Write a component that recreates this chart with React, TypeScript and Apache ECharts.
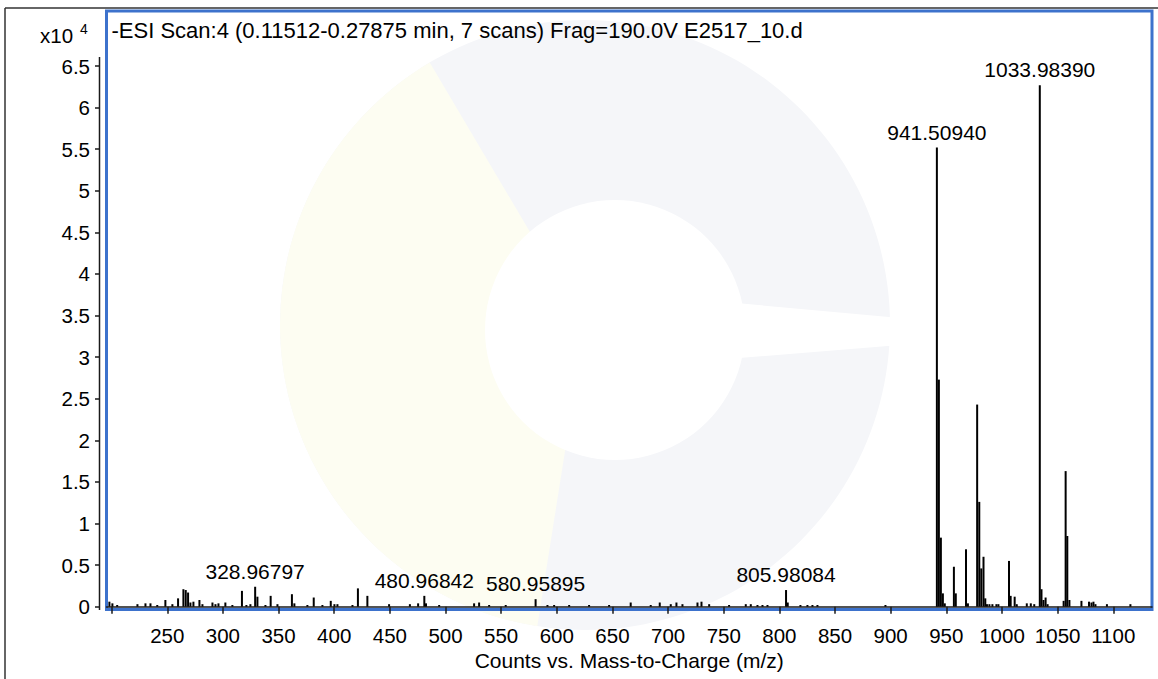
import React, { useEffect, useRef } from 'react';
import * as echarts from 'echarts';

const FONT = '"Liberation Sans", Arial, Helvetica, sans-serif';

const titleText = '-ESI Scan:4 (0.11512-0.27875 min, 7 scans) Frag=190.0V E2517_10.d';
const xAxisTitle = 'Counts vs. Mass-to-Charge (m/z)';

// peak positions (m/z) and intensities (counts)
const peakMz = [
  198.0, 200.7, 205.0, 223.2, 230.4, 234.9, 241.0, 248.3, 254.6, 259.7,
  264.5, 266.6, 268.7, 270.8, 273.5, 278.9, 281.6, 290.6, 293.3, 296.0,
  302.2, 308.5, 317.1, 321.1, 324.7, 328.96797, 331.0, 338.2, 342.9, 349.0,
  362.0, 364.2, 375.9, 381.6, 389.4, 396.9, 400.2, 402.9, 416.4, 421.3,
  429.8, 449.3, 468.0, 475.4, 480.96842, 482.5, 494.3, 525.7, 530.2, 539.2,
  554.1, 580.95895, 591.6, 597.6, 611.1, 629.0, 647.0, 666.4, 684.4, 692.5,
  702.4, 707.5, 712.9, 726.4, 730.0, 736.9, 754.8, 769.8, 774.3, 780.3,
  784.8, 789.3, 805.98084, 807.5, 818.9, 825.2, 829.7, 834.2, 895.3,
  941.5094, 943.3, 945.1, 946.9, 948.6, 956.8, 958.5, 967.7, 969.4,
  977.7, 979.6, 981.4, 983.4, 985.0, 986.5, 988.7, 991.4, 995.0, 996.8,
  1006.3, 1007.8, 1011.4, 1013.3, 1022.3, 1025.9, 1029.0,
  1033.9839, 1035.5, 1037.3, 1039.2, 1041.0,
  1055.4, 1057.2, 1058.7, 1060.6, 1071.4, 1078.2, 1080.4, 1082.2, 1084.0,
  1094.3, 1115.4,
];
const peakCounts = [
  600, 400, 200, 300, 400, 400, 200, 800, 300, 1000,
  2100, 2000, 1700, 500, 600, 800, 300, 500, 300, 400,
  500, 200, 1900, 200, 300, 2400, 1200, 200, 1300, 300,
  1500, 400, 200, 1100, 200, 700, 300, 300, 200, 2200,
  1300, 300, 300, 400, 1300, 400, 200, 400, 500, 200,
  200, 900, 200, 200, 200, 200, 200, 500, 200, 500,
  300, 500, 300, 500, 600, 300, 200, 300, 300, 200,
  200, 200, 2000, 500, 200, 200, 200, 200, 200,
  55200, 27300, 8300, 1600, 400, 4800, 1600, 6900, 400,
  24300, 12600, 4600, 6000, 1000, 300, 300, 300, 300, 300,
  5500, 1300, 1200, 300, 400, 400, 300,
  62700, 2100, 800, 1100, 300,
  700, 16300, 8500, 800, 700, 600, 500, 600, 300,
  300, 300,
];
const labeledMz = [328.96797, 480.96842, 580.95895, 805.98084, 941.5094, 1033.9839];

const xTickValues = [200, 250, 300, 350, 400, 450, 500, 550, 600, 650, 700, 750, 800, 850, 900, 950, 1000, 1050, 1100];
const xLabelValues = [250, 300, 350, 400, 450, 500, 550, 600, 650, 700, 750, 800, 850, 900, 950, 1000, 1050, 1100];
const yTickValues = [0, 5000, 10000, 15000, 20000, 25000, 30000, 35000, 40000, 45000, 50000, 55000, 60000, 65000];

export default function App() {
  const ref = useRef<HTMLDivElement>(null);
  useEffect(() => {
    if (!ref.current) return;
    const chart = echarts.init(ref.current, null, { renderer: 'svg' });
    const data = peakMz.map((mz, i) => {
      const isLabeled = labeledMz.some((l) => Math.abs(l - mz) < 1e-6);
      return {
        value: [mz, peakCounts[i]],
        label: isLabeled
          ? {
              show: true,
              position: 'top',
              distance: 5,
              formatter: (p: any) => p.value[0].toFixed(5),
              fontSize: 21,
              fontFamily: FONT,
              color: '#000',
            }
          : { show: false },
      };
    });
    const axisLineStyle = { color: '#1a1a1a', width: 1.5 };
    chart.setOption({
      animation: false,
      backgroundColor: '#ffffff',
      title: {
        text: titleText,
        left: 111.5,
        top: 19.5,
        padding: 0,
        textStyle: { fontSize: 22, fontWeight: 'normal', color: '#000', fontFamily: FONT },
      },
      grid: {
        left: 106.5,
        right: 6,
        top: 11,
        bottom: 69.5,
        show: true,
        borderColor: '#3d72cc',
        borderWidth: 3,
        backgroundColor: 'transparent',
      },
      xAxis: {
        type: 'value',
        min: 195.4,
        max: 1134.8,
        offset: 5,
        axisLine: { show: true, lineStyle: axisLineStyle },
        axisTick: { show: true, length: 7, customValues: xTickValues, lineStyle: axisLineStyle },
        axisLabel: {
          customValues: xLabelValues,
          formatter: (v: number) => String(v),
          margin: 10,
          fontSize: 20.5,
          color: '#000',
          fontFamily: FONT,
        },
        splitLine: { show: false },
        name: xAxisTitle,
        nameLocation: 'middle',
        nameGap: 35,
        nameTextStyle: { fontSize: 21, color: '#000', fontFamily: FONT },
      },
      yAxis: {
        type: 'value',
        min: -340,
        max: 71620,
        offset: 7,
        axisLine: { show: false },
        axisTick: { show: true, length: 4.5, customValues: yTickValues, lineStyle: axisLineStyle },
        axisLabel: {
          customValues: yTickValues,
          formatter: (v: number) => String(v / 10000),
          margin: 9.5,
          fontSize: 20.5,
          color: '#000',
          fontFamily: FONT,
        },
        splitLine: { show: false },
      },
      series: [
        {
          type: 'bar',
          data,
          barWidth: 2,
          itemStyle: { color: '#000' },
          z: 3,
        },
      ],
      graphic: [
        // faint watermark
        { type: 'circle', silent: true, z: -2, shape: { cx: 585, cy: 325, r: 305 }, style: { fill: '#f5f6f9' } },
        {
          type: 'sector',
          silent: true,
          z: -2,
          shape: { cx: 585, cy: 325, r: 305, r0: 0, startAngle: Math.PI * 0.55, endAngle: Math.PI * 1.33 },
          style: { fill: '#fdfdf2' },
        },
        { type: 'circle', silent: true, z: -2, shape: { cx: 615, cy: 330, r: 130 }, style: { fill: '#ffffff' } },
        {
          type: 'polygon',
          silent: true,
          z: -2,
          shape: { points: [[615, 292], [900, 318], [900, 345], [615, 368]] },
          style: { fill: '#ffffff' },
        },
        // frame
        { type: 'line', silent: true, shape: { x1: 5, y1: 8, x2: 5, y2: 679 }, style: { stroke: '#333', lineWidth: 1.5 } },
        { type: 'line', silent: true, shape: { x1: 5, y1: 8, x2: 1158, y2: 8 }, style: { stroke: '#333', lineWidth: 1.5 } },
        // y axis line
        { type: 'line', silent: true, shape: { x1: 99.5, y1: 57, x2: 99.5, y2: 610 }, style: { stroke: '#1a1a1a', lineWidth: 1.5 } },
        // x10^4
        {
          type: 'text',
          silent: true,
          x: 40,
          y: 35.5,
          style: { text: 'x10', fontSize: 20.5, fontFamily: FONT, fill: '#000', verticalAlign: 'middle', align: 'left' },
        },
        {
          type: 'text',
          silent: true,
          x: 80,
          y: 29,
          style: { text: '4', fontSize: 14, fontFamily: FONT, fill: '#000', verticalAlign: 'middle', align: 'left' },
        },
      ],
    });
    return () => chart.dispose();
  }, []);
  return <div ref={ref} style={{ position: 'fixed', left: 0, top: 0, width: 1158, height: 679 }} />;
}
